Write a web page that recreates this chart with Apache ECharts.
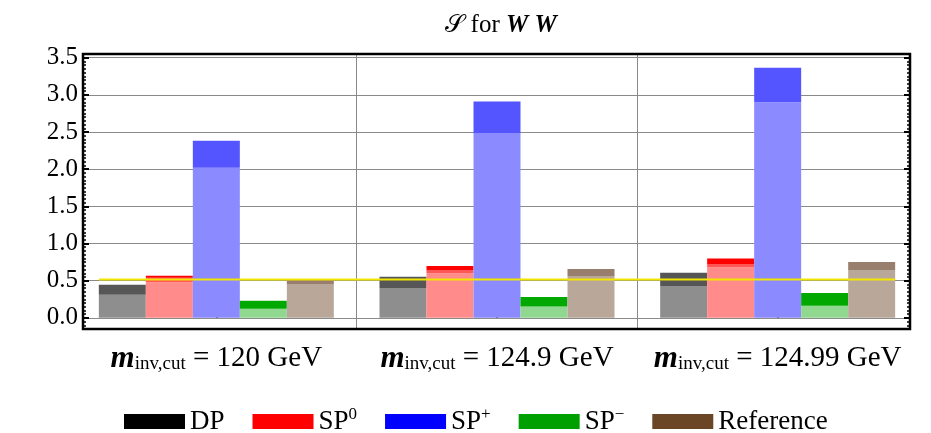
<!DOCTYPE html>
<html>
<head>
<meta charset="utf-8">
<script src="https://cdn.jsdelivr.net/npm/echarts@6/dist/echarts.min.js"></script>
<style>
  html, body { margin: 0; padding: 0; background: #fff; }
  #chart { width: 931px; height: 433px; }
</style>
</head>
<body>
<div id="chart"></div>
<script>
// cut values on the x axis
const cuts = ['120', '124.9', '124.99'];

// each bar is drawn as a light base with a darker cap on top
const dpLow = [0.311, 0.401, 0.428];
const dpHigh = [0.446, 0.554, 0.608];
const sp0Low = [0.48, 0.60, 0.68];
const sp0Mid = [0.54, 0.645, 0.726];
const sp0High = [0.568, 0.698, 0.797];
const spPlusLow = [2.018, 2.486, 2.90];
const spPlusHigh = [2.383, 2.91, 3.365];
const spMinusLow = [0.122, 0.153, 0.162];
const spMinusHigh = [0.229, 0.279, 0.334];
const refLow = [0.455, 0.563, 0.645];
const refHigh = [0.509, 0.658, 0.752];

// yellow reference level
const refLevel = [0.515];

const yTicks = [0, 0.5, 1.0, 1.5, 2.0, 2.5, 3.0, 3.5];

const FONT = 'Liberation Serif';
const BAR_W = 47;
const diff = (a, b) => a.map((v, i) => +(v - b[i]).toFixed(4));

function bar(name, stack, data, color) {
  return {
    name: name,
    type: 'bar',
    stack: stack,
    data: data,
    barWidth: BAR_W,
    barGap: '0%',
    itemStyle: { color: color },
    xAxisIndex: 0,
    yAxisIndex: 0,
    silent: true
  };
}

const series = [
  bar('DP-base', 'DP', dpLow, '#8e8e8e'),
  bar('DP', 'DP', diff(dpHigh, dpLow), '#565656'),
  bar('SP0-base', 'SP0', sp0Low, '#ff8b8b'),
  bar('SP0-mid', 'SP0', diff(sp0Mid, sp0Low), '#ff5656'),
  bar('SP0', 'SP0', diff(sp0High, sp0Mid), '#ff0000'),
  bar('SP+-base', 'SPP', spPlusLow, '#8b8bff'),
  bar('SP+', 'SPP', diff(spPlusHigh, spPlusLow), '#5555ff'),
  bar('SP--base', 'SPM', spMinusLow, '#90d890'),
  bar('SP-', 'SPM', diff(spMinusHigh, spMinusLow), '#00a800'),
  bar('Reference-base', 'REF', refLow, '#b9a899'),
  bar('Reference', 'REF', diff(refHigh, refLow), '#987f6d')
];

// yellow line from the first bar edge to the last bar edge
const gridW = 931 - 76 - 13;
const half = 2.5 * BAR_W / (gridW / cuts.length);
series.push({
  name: 'level',
  type: 'line',
  xAxisIndex: 1,
  yAxisIndex: 0,
  data: [[-half, refLevel[0]], [cuts.length - 1 + half, refLevel[0]]],
  symbol: 'none',
  lineStyle: { color: '#f2e600', width: 2 },
  z: 5,
  silent: true
});

const legendColors = { 'DP': '#000000', 'SP0': '#ff0000', 'SP+': '#0000ff', 'SP-': '#00a000', 'Reference': '#6b4626' };
const legendText = { 'DP': 'DP', 'SP0': 'SP{sup|0}', 'SP+': 'SP{sup|+}', 'SP-': 'SP{sup|−}', 'Reference': 'Reference' };

const yMin = -0.15, yMax = 3.55;

const chart = echarts.init(document.getElementById('chart'));
chart.setOption({
  animation: false,
  title: {
    text: '{s|𝒮} for {w|W W}',
    left: 496,
    textAlign: 'center',
    top: 8,
    textStyle: {
      fontFamily: FONT, fontSize: 25, fontWeight: 'normal', color: '#000',
      rich: {
        s: { fontFamily: 'DejaVu Sans', fontSize: 25, color: '#000' },
        w: { fontFamily: FONT, fontSize: 25, fontStyle: 'italic', fontWeight: 'bold', color: '#000' }
      }
    }
  },
  legend: {
    data: Object.keys(legendColors).map(n => ({ name: n, itemStyle: { color: legendColors[n] } })),
    left: 119,
    top: 401,
    itemWidth: 61,
    itemHeight: 15,
    itemGap: 28,
    icon: 'rect',
    selectedMode: false,
    formatter: n => legendText[n],
    textStyle: {
      fontFamily: FONT, fontSize: 27, color: '#000',
      rich: { sup: { fontFamily: FONT, fontSize: 17, color: '#000', padding: [0, 0, 14, 0] } }
    }
  },
  grid: [
    { left: 76, right: 13, top: 54, bottom: 104, show: false },
    { left: 83, right: 21, top: 54, bottom: 104, show: true, borderColor: '#000', borderWidth: 2.5, backgroundColor: 'transparent', z: 4 }
  ],
  xAxis: [
    {
      type: 'category',
      gridIndex: 0,
      data: cuts,
      axisLine: { show: false },
      axisTick: { show: true, inside: true, alignWithLabel: true, length: 5, lineStyle: { color: '#000', width: 2 } },
      splitLine: { show: true, showMinLine: false, showMaxLine: false, lineStyle: { color: '#8a8a8a', width: 1 } },
      axisLabel: {
        margin: 14,
        formatter: v => '{m|m}{sub|inv,cut}{t| = ' + v + ' GeV}',
        rich: {
          m: { fontFamily: FONT, fontSize: 31, fontStyle: 'italic', fontWeight: 'bold', color: '#000' },
          sub: { fontFamily: FONT, fontSize: 19, color: '#000', padding: [11, 0, 0, 0] },
          t: { fontFamily: FONT, fontSize: 29, color: '#000' }
        }
      }
    },
    { type: 'value', gridIndex: 0, min: -0.5, max: cuts.length - 0.5, show: false },
    { type: 'value', gridIndex: 1, min: 0, max: 1, show: false }
  ],
  yAxis: [
    { type: 'value', gridIndex: 0, min: yMin, max: yMax, show: false },
    {
      type: 'value',
      gridIndex: 1,
      min: yMin,
      max: yMax,
      splitNumber: 7,
      position: 'left',
      axisLine: { show: false },
      axisTick: { show: true, inside: true, length: 6, lineStyle: { color: '#000', width: 2 } },
      minorTick: { show: true, splitNumber: 10, length: 3, lineStyle: { color: '#000', width: 1.5 } },
      splitLine: { show: true, lineStyle: { color: '#8a8a8a', width: 1.2 } },
      axisLabel: {
        showMinLabel: false, showMaxLabel: false,
        margin: 5,
        fontFamily: FONT, fontSize: 25, color: '#000',
        formatter: v => yTicks.some(t => Math.abs(t - v) < 1e-6) ? v.toFixed(1) : ''
      }
    },
    {
      type: 'value',
      gridIndex: 1,
      min: yMin,
      max: yMax,
      splitNumber: 7,
      position: 'right',
      axisLine: { show: false },
      axisTick: { show: true, inside: true, length: 6, lineStyle: { color: '#000', width: 2 } },
      minorTick: { show: true, splitNumber: 10, length: 3, lineStyle: { color: '#000', width: 1.5 } },
      splitLine: { show: false },
      axisLabel: { show: false }
    }
  ],
  series: series
});
</script>
</body>
</html>
